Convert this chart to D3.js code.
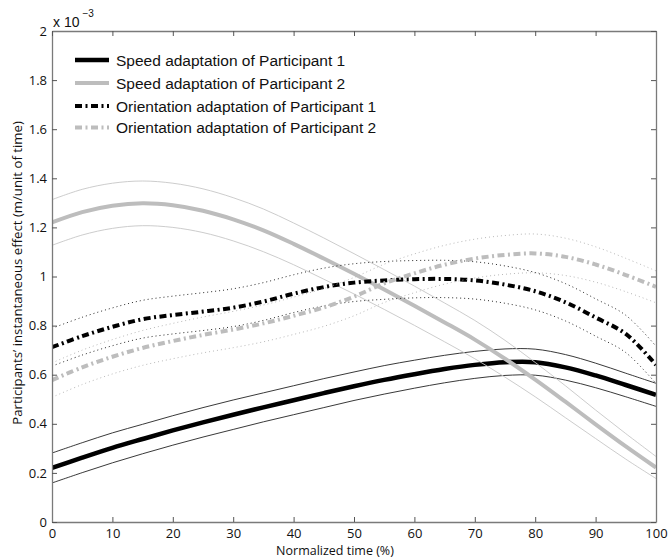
<!DOCTYPE html>
<html>
<head>
<meta charset="utf-8">
<script src="https://cdn.jsdelivr.net/npm/d3@7"></script>
<style>
  body { margin: 0; background: #fff; }
  svg { display: block; }
</style>
</head>
<body>
<div id="chart"></div>
<script>
// normalized time (%) at which the curves were read
var timeGrid = [0,5,10,15,20,25,30,35,40,45,50,55,60,65,70,75,80,85,90,95,100];

// values in units of 1e-3 m/unit of time
var speedP1    = [0.22,0.262,0.302,0.338,0.373,0.406,0.437,0.467,0.496,0.525,0.553,0.579,0.602,0.623,0.64,0.651,0.651,0.63,0.597,0.558,0.518];
var speedP1Err = [0.061,0.061,0.061,0.06,0.06,0.06,0.06,0.059,0.059,0.059,0.058,0.058,0.057,0.056,0.055,0.054,0.053,0.052,0.05,0.048,0.047];
var speedP2    = [1.22,1.262,1.288,1.298,1.29,1.268,1.233,1.188,1.133,1.073,1.011,0.947,0.881,0.813,0.743,0.665,0.58,0.49,0.398,0.308,0.222];
var speedP2Err = [0.093,0.093,0.092,0.091,0.09,0.089,0.088,0.087,0.085,0.084,0.082,0.081,0.08,0.079,0.078,0.075,0.07,0.065,0.058,0.052,0.045];
var orientP1    = [0.712,0.757,0.795,0.826,0.843,0.857,0.873,0.898,0.93,0.957,0.975,0.984,0.989,0.99,0.984,0.967,0.94,0.895,0.833,0.766,0.64];
var orientP1Err = [0.077,0.077,0.077,0.077,0.077,0.077,0.077,0.077,0.077,0.077,0.077,0.077,0.076,0.076,0.076,0.076,0.076,0.076,0.076,0.076,0.076];
var orientP2    = [0.578,0.63,0.673,0.709,0.737,0.762,0.784,0.809,0.84,0.874,0.918,0.972,1.013,1.048,1.073,1.088,1.094,1.08,1.049,1.006,0.958];
var orientP2Err = [0.07,0.07,0.07,0.071,0.072,0.073,0.074,0.075,0.076,0.077,0.078,0.078,0.079,0.079,0.079,0.079,0.079,0.076,0.072,0.068,0.065];

var xTicks = [0,10,20,30,40,50,60,70,80,90,100];
var yTicks = [0,0.2,0.4,0.6,0.8,1,1.2,1.4,1.6,1.8,2];
var legendLabels = [
  "Speed adaptation of Participant 1",
  "Speed adaptation of Participant 2",
  "Orientation adaptation of Participant 1",
  "Orientation adaptation of Participant 2"
];

var width = 668, height = 558;
var plotLeft = 52, plotRight = 656, plotTop = 31, plotBottom = 522;

var svg = d3.select("#chart").append("svg")
  .attr("width", width)
  .attr("height", height);

var x = d3.scaleLinear().domain([0, 100]).range([plotLeft, plotRight]);
var y = d3.scaleLinear().domain([0, 2]).range([plotBottom, plotTop]);

svg.append("clipPath").attr("id", "plotclip")
  .append("rect").attr("x", plotLeft).attr("y", plotTop)
  .attr("width", plotRight - plotLeft).attr("height", plotBottom - plotTop);

var line = d3.line()
  .x(function(d){ return x(d[0]); })
  .y(function(d){ return y(d[1]); })
  .curve(d3.curveCatmullRom.alpha(0.5));

function pts(vals, err, sign){
  return timeGrid.map(function(t, i){
    return [t, vals[i] + sign * (err ? err[i] : 0)];
  });
}

// line styles
var grey = "#bdbdbd";
var dashDot = "7,3.5,2,3.5";
var series = [
  { mean: speedP1, err: speedP1Err, color: "#000", band: "#222", width: 4.5, dash: null, bandDash: null },
  { mean: speedP2, err: speedP2Err, color: grey, band: "#c6c6c6", width: 4, dash: null, bandDash: null },
  { mean: orientP1, err: orientP1Err, color: "#000", band: "#111", width: 4, dash: dashDot, bandDash: "1,3" },
  { mean: orientP2, err: orientP2Err, color: grey, band: "#b0b0b0", width: 4, dash: dashDot, bandDash: "1,3" }
];

var plot = svg.append("g").attr("clip-path", "url(#plotclip)");

series.forEach(function(s){
  [-1, 1].forEach(function(sign){
    plot.append("path")
      .attr("d", line(pts(s.mean, s.err, sign)))
      .attr("fill", "none")
      .attr("stroke", s.band)
      .attr("stroke-width", 0.9)
      .attr("stroke-dasharray", s.bandDash);
  });
  plot.append("path")
    .attr("d", line(pts(s.mean, null, 0)))
    .attr("fill", "none")
    .attr("stroke", s.color)
    .attr("stroke-width", s.width)
    .attr("stroke-dasharray", s.dash);
});

// axes, MATLAB style box with inward ticks
var axisColor = "#7a7a7a";
var gx = svg.append("g").attr("transform", "translate(0," + plotBottom + ")")
  .call(d3.axisBottom(x).tickValues(xTicks).tickSizeInner(-5).tickSizeOuter(0).tickPadding(7));
var gy = svg.append("g").attr("transform", "translate(" + plotLeft + ",0)")
  .call(d3.axisLeft(y).tickValues(yTicks).tickSizeInner(-5).tickSizeOuter(0).tickPadding(5)
    .tickFormat(d3.format("~g")));
var gt = svg.append("g").attr("transform", "translate(0," + plotTop + ")")
  .call(d3.axisTop(x).tickValues(xTicks).tickSizeInner(-5).tickSizeOuter(0).tickFormat(""));
var gr = svg.append("g").attr("transform", "translate(" + plotRight + ",0)")
  .call(d3.axisRight(y).tickValues(yTicks).tickSizeInner(-5).tickSizeOuter(0).tickFormat(""));

[gx, gy, gt, gr].forEach(function(g){
  g.selectAll(".domain").attr("stroke", axisColor).attr("stroke-width", 1.3);
  g.selectAll(".tick line").attr("stroke", "#555").attr("stroke-width", 1);
  g.selectAll("text")
    .attr("fill", "#111")
    .style("font-family", "'Open Sans', sans-serif")
    .style("font-size", "13px");
});

// exponent
var ex = svg.append("text").attr("x", 53).attr("y", 27)
  .style("font-family", "'Liberation Sans', Arial, sans-serif")
  .style("font-size", "14px").attr("fill", "#111");
ex.append("tspan").text("x 10");
ex.append("tspan").attr("dx", 3).attr("dy", -10).style("font-size", "10px").text("\u22123");

// axis labels
svg.append("text")
  .attr("x", 335).attr("y", 555.3)
  .attr("text-anchor", "middle")
  .style("font-family", "'Open Sans', sans-serif")
  .style("font-size", "12.5px")
  .attr("fill", "#111")
  .text("Normalized time (%)");

svg.append("text")
  .attr("transform", "translate(17,273) rotate(-90)")
  .attr("text-anchor", "middle")
  .attr("dominant-baseline", "central")
  .style("font-family", "'Open Sans', sans-serif")
  .style("font-size", "13.2px")
  .attr("fill", "#111")
  .text("Participants\u2019 instantaneous effect (m/unit of time)");

// legend
var rowY = [60, 83, 106, 127.5];
var legend = svg.append("g");
series.forEach(function(s, i){
  legend.append("line")
    .attr("x1", 75).attr("x2", 109)
    .attr("y1", rowY[i]).attr("y2", rowY[i])
    .attr("stroke", s.color)
    .attr("stroke-width", s.width)
    .attr("stroke-dasharray", s.dash);
  legend.append("text")
    .attr("x", 116).attr("y", rowY[i] + 5.5)
    .style("font-family", "'Liberation Sans', Arial, sans-serif")
    .style("font-size", "15.5px")
    .attr("fill", "#111")
    .text(legendLabels[i]);
});
</script>
</body>
</html>
